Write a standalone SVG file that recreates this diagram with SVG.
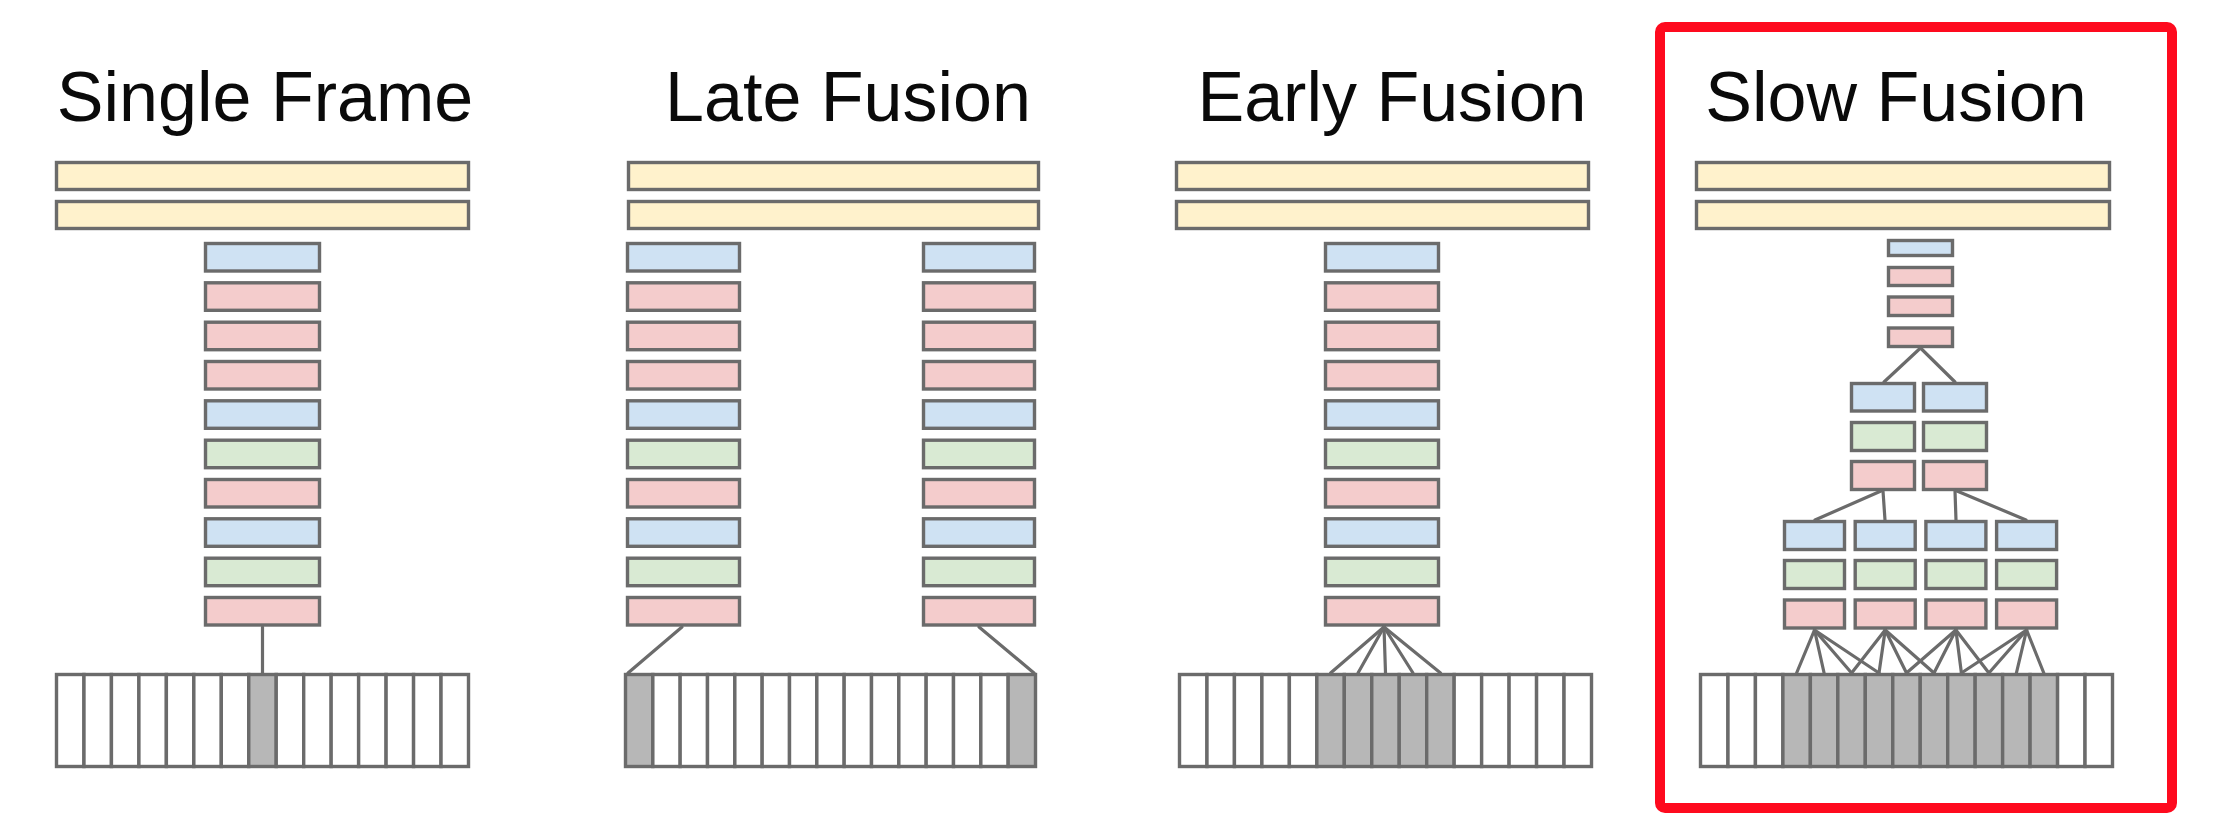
<svg xmlns="http://www.w3.org/2000/svg" width="2216" height="828" viewBox="0 0 2216 828">
<style>
.n{stroke:#6b6b6b;stroke-width:3.4}
.y{fill:#fff2cc}.b{fill:#cfe2f3}.p{fill:#f4cccc}.g{fill:#d9ead3}.w{fill:#ffffff}.k{fill:#b7b7b7}
.t{font-family:"Liberation Sans",Arial,sans-serif;font-size:70px;fill:#0a0a0a;text-anchor:middle}
.c line{stroke:#6b6b6b;stroke-width:3.2;stroke-linecap:round}
</style>
<rect width="2216" height="828" fill="#ffffff"/>

<!-- Single Frame -->
<g id="single-frame">
<text class="t" x="265" y="121">Single Frame</text>
<g id="sf-fc1"><rect class="n y" x="56.5" y="162.5" width="412" height="27"/></g>
<g id="sf-fc2"><rect class="n y" x="56.5" y="201.5" width="412" height="27"/></g>
<g id="sf-l0"><rect class="n b" x="205.5" y="243.5" width="114" height="27.5"/></g>
<g id="sf-l1"><rect class="n p" x="205.5" y="282.8" width="114" height="27.5"/></g>
<g id="sf-l2"><rect class="n p" x="205.5" y="322.2" width="114" height="27.5"/></g>
<g id="sf-l3"><rect class="n p" x="205.5" y="361.5" width="114" height="27.5"/></g>
<g id="sf-l4"><rect class="n b" x="205.5" y="400.8" width="114" height="27.5"/></g>
<g id="sf-l5"><rect class="n g" x="205.5" y="440.2" width="114" height="27.5"/></g>
<g id="sf-l6"><rect class="n p" x="205.5" y="479.5" width="114" height="27.5"/></g>
<g id="sf-l7"><rect class="n b" x="205.5" y="518.8" width="114" height="27.5"/></g>
<g id="sf-l8"><rect class="n g" x="205.5" y="558.2" width="114" height="27.5"/></g>
<g id="sf-l9"><rect class="n p" x="205.5" y="597.5" width="114" height="27.5"/></g>
<g id="sf-frames">
<rect class="n w" x="56.5" y="674.5" width="27.47" height="92"/>
<rect class="n w" x="83.97" y="674.5" width="27.47" height="92"/>
<rect class="n w" x="111.43" y="674.5" width="27.47" height="92"/>
<rect class="n w" x="138.9" y="674.5" width="27.47" height="92"/>
<rect class="n w" x="166.37" y="674.5" width="27.47" height="92"/>
<rect class="n w" x="193.83" y="674.5" width="27.47" height="92"/>
<rect class="n w" x="221.3" y="674.5" width="27.47" height="92"/>
<rect class="n k" x="248.77" y="674.5" width="27.47" height="92"/>
<rect class="n w" x="276.23" y="674.5" width="27.47" height="92"/>
<rect class="n w" x="303.7" y="674.5" width="27.47" height="92"/>
<rect class="n w" x="331.17" y="674.5" width="27.47" height="92"/>
<rect class="n w" x="358.63" y="674.5" width="27.47" height="92"/>
<rect class="n w" x="386.1" y="674.5" width="27.47" height="92"/>
<rect class="n w" x="413.57" y="674.5" width="27.47" height="92"/>
<rect class="n w" x="441.03" y="674.5" width="27.47" height="92"/>
</g>
</g>

<!-- Late Fusion -->
<g id="late-fusion">
<text class="t" x="848" y="121">Late Fusion</text>
<g id="lf-fc1"><rect class="n y" x="628.5" y="162.5" width="410" height="27"/></g>
<g id="lf-fc2"><rect class="n y" x="628.5" y="201.5" width="410" height="27"/></g>
<g id="lf-a0"><rect class="n b" x="627.5" y="243.5" width="112" height="27.5"/></g>
<g id="lf-a1"><rect class="n p" x="627.5" y="282.8" width="112" height="27.5"/></g>
<g id="lf-a2"><rect class="n p" x="627.5" y="322.2" width="112" height="27.5"/></g>
<g id="lf-a3"><rect class="n p" x="627.5" y="361.5" width="112" height="27.5"/></g>
<g id="lf-a4"><rect class="n b" x="627.5" y="400.8" width="112" height="27.5"/></g>
<g id="lf-a5"><rect class="n g" x="627.5" y="440.2" width="112" height="27.5"/></g>
<g id="lf-a6"><rect class="n p" x="627.5" y="479.5" width="112" height="27.5"/></g>
<g id="lf-a7"><rect class="n b" x="627.5" y="518.8" width="112" height="27.5"/></g>
<g id="lf-a8"><rect class="n g" x="627.5" y="558.2" width="112" height="27.5"/></g>
<g id="lf-a9"><rect class="n p" x="627.5" y="597.5" width="112" height="27.5"/></g>
<g id="lf-b0"><rect class="n b" x="923.5" y="243.5" width="111" height="27.5"/></g>
<g id="lf-b1"><rect class="n p" x="923.5" y="282.8" width="111" height="27.5"/></g>
<g id="lf-b2"><rect class="n p" x="923.5" y="322.2" width="111" height="27.5"/></g>
<g id="lf-b3"><rect class="n p" x="923.5" y="361.5" width="111" height="27.5"/></g>
<g id="lf-b4"><rect class="n b" x="923.5" y="400.8" width="111" height="27.5"/></g>
<g id="lf-b5"><rect class="n g" x="923.5" y="440.2" width="111" height="27.5"/></g>
<g id="lf-b6"><rect class="n p" x="923.5" y="479.5" width="111" height="27.5"/></g>
<g id="lf-b7"><rect class="n b" x="923.5" y="518.8" width="111" height="27.5"/></g>
<g id="lf-b8"><rect class="n g" x="923.5" y="558.2" width="111" height="27.5"/></g>
<g id="lf-b9"><rect class="n p" x="923.5" y="597.5" width="111" height="27.5"/></g>
<g id="lf-frames">
<rect class="n k" x="625.5" y="674.5" width="27.33" height="92"/>
<rect class="n w" x="652.83" y="674.5" width="27.33" height="92"/>
<rect class="n w" x="680.17" y="674.5" width="27.33" height="92"/>
<rect class="n w" x="707.5" y="674.5" width="27.33" height="92"/>
<rect class="n w" x="734.83" y="674.5" width="27.33" height="92"/>
<rect class="n w" x="762.17" y="674.5" width="27.33" height="92"/>
<rect class="n w" x="789.5" y="674.5" width="27.33" height="92"/>
<rect class="n w" x="816.83" y="674.5" width="27.33" height="92"/>
<rect class="n w" x="844.17" y="674.5" width="27.33" height="92"/>
<rect class="n w" x="871.5" y="674.5" width="27.33" height="92"/>
<rect class="n w" x="898.83" y="674.5" width="27.33" height="92"/>
<rect class="n w" x="926.17" y="674.5" width="27.33" height="92"/>
<rect class="n w" x="953.5" y="674.5" width="27.33" height="92"/>
<rect class="n w" x="980.83" y="674.5" width="27.33" height="92"/>
<rect class="n k" x="1008.17" y="674.5" width="27.33" height="92"/>
</g>
</g>

<!-- Early Fusion -->
<g id="early-fusion">
<text class="t" x="1392" y="121">Early Fusion</text>
<g id="ef-fc1"><rect class="n y" x="1176.5" y="162.5" width="412" height="27"/></g>
<g id="ef-fc2"><rect class="n y" x="1176.5" y="201.5" width="412" height="27"/></g>
<g id="ef-l0"><rect class="n b" x="1325.5" y="243.5" width="113" height="27.5"/></g>
<g id="ef-l1"><rect class="n p" x="1325.5" y="282.8" width="113" height="27.5"/></g>
<g id="ef-l2"><rect class="n p" x="1325.5" y="322.2" width="113" height="27.5"/></g>
<g id="ef-l3"><rect class="n p" x="1325.5" y="361.5" width="113" height="27.5"/></g>
<g id="ef-l4"><rect class="n b" x="1325.5" y="400.8" width="113" height="27.5"/></g>
<g id="ef-l5"><rect class="n g" x="1325.5" y="440.2" width="113" height="27.5"/></g>
<g id="ef-l6"><rect class="n p" x="1325.5" y="479.5" width="113" height="27.5"/></g>
<g id="ef-l7"><rect class="n b" x="1325.5" y="518.8" width="113" height="27.5"/></g>
<g id="ef-l8"><rect class="n g" x="1325.5" y="558.2" width="113" height="27.5"/></g>
<g id="ef-l9"><rect class="n p" x="1325.5" y="597.5" width="113" height="27.5"/></g>
<g id="ef-frames">
<rect class="n w" x="1179.5" y="674.5" width="27.47" height="92"/>
<rect class="n w" x="1206.97" y="674.5" width="27.47" height="92"/>
<rect class="n w" x="1234.43" y="674.5" width="27.47" height="92"/>
<rect class="n w" x="1261.9" y="674.5" width="27.47" height="92"/>
<rect class="n w" x="1289.37" y="674.5" width="27.47" height="92"/>
<rect class="n k" x="1316.83" y="674.5" width="27.47" height="92"/>
<rect class="n k" x="1344.3" y="674.5" width="27.47" height="92"/>
<rect class="n k" x="1371.77" y="674.5" width="27.47" height="92"/>
<rect class="n k" x="1399.23" y="674.5" width="27.47" height="92"/>
<rect class="n k" x="1426.7" y="674.5" width="27.47" height="92"/>
<rect class="n w" x="1454.17" y="674.5" width="27.47" height="92"/>
<rect class="n w" x="1481.63" y="674.5" width="27.47" height="92"/>
<rect class="n w" x="1509.1" y="674.5" width="27.47" height="92"/>
<rect class="n w" x="1536.57" y="674.5" width="27.47" height="92"/>
<rect class="n w" x="1564.03" y="674.5" width="27.47" height="92"/>
</g>
</g>

<!-- Slow Fusion -->
<g id="slow-fusion">
<rect id="highlight" x="1660" y="27" width="512" height="781" rx="5" fill="none" stroke="#fe0a1e" stroke-width="10"/>
<text class="t" x="1896" y="121">Slow Fusion</text>
<g id="sl-fc1"><rect class="n y" x="1696.5" y="162.5" width="413" height="27"/></g>
<g id="sl-fc2"><rect class="n y" x="1696.5" y="201.5" width="413" height="27"/></g>
<g id="sl-t0"><rect class="n b" x="1888.5" y="240.5" width="64" height="15"/></g>
<g id="sl-t1"><rect class="n p" x="1888.5" y="267.5" width="64" height="18"/></g>
<g id="sl-t2"><rect class="n p" x="1888.5" y="297" width="64" height="18.5"/></g>
<g id="sl-t3"><rect class="n p" x="1888.5" y="328" width="64" height="18.5"/></g>
<g id="sl-m0a"><rect class="n b" x="1851.5" y="383.5" width="63" height="27.5"/></g>
<g id="sl-m0b"><rect class="n g" x="1851.5" y="422.5" width="63" height="28"/></g>
<g id="sl-m0c"><rect class="n p" x="1851.5" y="461.5" width="63" height="28"/></g>
<g id="sl-m1a"><rect class="n b" x="1923.5" y="383.5" width="63" height="27.5"/></g>
<g id="sl-m1b"><rect class="n g" x="1923.5" y="422.5" width="63" height="28"/></g>
<g id="sl-m1c"><rect class="n p" x="1923.5" y="461.5" width="63" height="28"/></g>
<g id="sl-b0a"><rect class="n b" x="1784.5" y="521.5" width="60" height="28"/></g>
<g id="sl-b0b"><rect class="n g" x="1784.5" y="560.5" width="60" height="28"/></g>
<g id="sl-b0c"><rect class="n p" x="1784.5" y="600" width="60" height="28"/></g>
<g id="sl-b1a"><rect class="n b" x="1855.2" y="521.5" width="60" height="28"/></g>
<g id="sl-b1b"><rect class="n g" x="1855.2" y="560.5" width="60" height="28"/></g>
<g id="sl-b1c"><rect class="n p" x="1855.2" y="600" width="60" height="28"/></g>
<g id="sl-b2a"><rect class="n b" x="1925.9" y="521.5" width="60" height="28"/></g>
<g id="sl-b2b"><rect class="n g" x="1925.9" y="560.5" width="60" height="28"/></g>
<g id="sl-b2c"><rect class="n p" x="1925.9" y="600" width="60" height="28"/></g>
<g id="sl-b3a"><rect class="n b" x="1996.6" y="521.5" width="60" height="28"/></g>
<g id="sl-b3b"><rect class="n g" x="1996.6" y="560.5" width="60" height="28"/></g>
<g id="sl-b3c"><rect class="n p" x="1996.6" y="600" width="60" height="28"/></g>
<g id="sl-frames">
<rect class="n w" x="1700.5" y="674.5" width="27.47" height="92"/>
<rect class="n w" x="1727.97" y="674.5" width="27.47" height="92"/>
<rect class="n w" x="1755.43" y="674.5" width="27.47" height="92"/>
<rect class="n k" x="1782.9" y="674.5" width="27.47" height="92"/>
<rect class="n k" x="1810.37" y="674.5" width="27.47" height="92"/>
<rect class="n k" x="1837.83" y="674.5" width="27.47" height="92"/>
<rect class="n k" x="1865.3" y="674.5" width="27.47" height="92"/>
<rect class="n k" x="1892.77" y="674.5" width="27.47" height="92"/>
<rect class="n k" x="1920.23" y="674.5" width="27.47" height="92"/>
<rect class="n k" x="1947.7" y="674.5" width="27.47" height="92"/>
<rect class="n k" x="1975.17" y="674.5" width="27.47" height="92"/>
<rect class="n k" x="2002.63" y="674.5" width="27.47" height="92"/>
<rect class="n k" x="2030.1" y="674.5" width="27.47" height="92"/>
<rect class="n w" x="2057.57" y="674.5" width="27.47" height="92"/>
<rect class="n w" x="2085.03" y="674.5" width="27.47" height="92"/>
</g>
</g>

<!-- Connectors -->
<g id="connectors" class="c">
<line x1="262.5" y1="627" x2="262.5" y2="673"/>
<line x1="682" y1="627" x2="628" y2="673"/>
<line x1="979" y1="627" x2="1034" y2="673"/>
<line x1="1384" y1="627" x2="1330.6" y2="673"/>
<line x1="1384" y1="627" x2="1358" y2="673"/>
<line x1="1384" y1="627" x2="1385.5" y2="673"/>
<line x1="1384" y1="627" x2="1413" y2="673"/>
<line x1="1384" y1="627" x2="1440.5" y2="673"/>
<line x1="1920.5" y1="348" x2="1884" y2="382"/>
<line x1="1920.5" y1="348" x2="1955" y2="382"/>
<line x1="1881" y1="491" x2="1815" y2="520"/>
<line x1="1883" y1="491" x2="1885" y2="520"/>
<line x1="1955" y1="491" x2="1956" y2="520"/>
<line x1="1957" y1="491" x2="2026" y2="520"/>
<line x1="1814.5" y1="630" x2="1796.6" y2="673"/>
<line x1="1814.5" y1="630" x2="1824.1" y2="673"/>
<line x1="1814.5" y1="630" x2="1851.6" y2="673"/>
<line x1="1814.5" y1="630" x2="1879" y2="673"/>
<line x1="1885.2" y1="630" x2="1851.6" y2="673"/>
<line x1="1885.2" y1="630" x2="1879" y2="673"/>
<line x1="1885.2" y1="630" x2="1906.5" y2="673"/>
<line x1="1885.2" y1="630" x2="1934" y2="673"/>
<line x1="1955.9" y1="630" x2="1906.5" y2="673"/>
<line x1="1955.9" y1="630" x2="1934" y2="673"/>
<line x1="1955.9" y1="630" x2="1961.4" y2="673"/>
<line x1="1955.9" y1="630" x2="1988.9" y2="673"/>
<line x1="2026.6" y1="630" x2="1961.4" y2="673"/>
<line x1="2026.6" y1="630" x2="1988.9" y2="673"/>
<line x1="2026.6" y1="630" x2="2016.4" y2="673"/>
<line x1="2026.6" y1="630" x2="2043.8" y2="673"/>
</g>
</svg>
